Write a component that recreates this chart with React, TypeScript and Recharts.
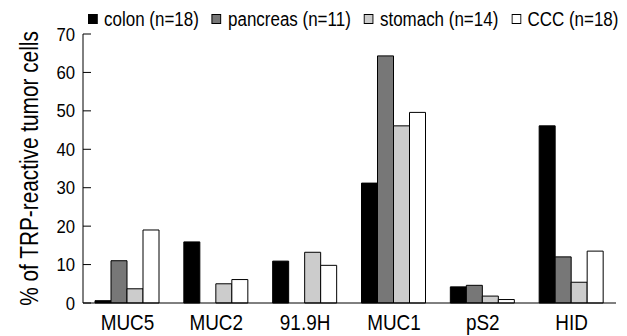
import { BarChart, Bar, XAxis, YAxis, Legend } from 'recharts'

const FONT = "'Liberation Sans', Arial, Helvetica, sans-serif"

const categories = ['MUC5', 'MUC2', '91.9H', 'MUC1', 'pS2', 'HID']
const colon = [0.6, 15.9, 10.9, 31.2, 4.2, 46.1]
const pancreas = [11.0, 0, 0, 64.3, 4.6, 12.0]
const stomach = [3.7, 5.0, 13.2, 46.1, 1.8, 5.4]
const ccc = [19.0, 6.1, 9.8, 49.6, 0.9, 13.5]
const yTicks = [0, 10, 20, 30, 40, 50, 60, 70]
const edgeTicks = [1, 2, 3, 4, 5, 6]

const series = [
  { key: 'colon', name: 'colon (n=18)', fill: '#000000' },
  { key: 'pancreas', name: 'pancreas (n=11)', fill: '#777777' },
  { key: 'stomach', name: 'stomach (n=14)', fill: '#cccccc' },
  { key: 'ccc', name: 'CCC (n=18)', fill: '#ffffff' },
]

const data = categories.map((name, i) => ({
  name,
  colon: colon[i],
  pancreas: pancreas[i],
  stomach: stomach[i],
  ccc: ccc[i],
}))

// the original uses a narrow face, so squeeze the text horizontally
const LEGEND_SQUEEZE = 0.87

const renderLegend = () => (
  <div
    style={{
      display: 'flex',
      gap: 15,
      fontSize: 19.5,
      fontFamily: FONT,
      color: '#000',
      lineHeight: '22px',
      whiteSpace: 'nowrap',
      transform: `scaleX(${LEGEND_SQUEEZE})`,
      transformOrigin: 'left top',
    }}
  >
    {series.map((s) => (
      <div key={s.key} style={{ display: 'flex', alignItems: 'center' }}>
        <span
          style={{
            display: 'inline-block',
            width: 11,
            height: 10,
            boxSizing: 'border-box',
            background: s.fill,
            border: '1px solid #000',
            marginRight: 7.5,
          }}
        />
        {s.name}
      </div>
    ))}
  </div>
)

const XTick = (props: any) => {
  const { x, y, payload } = props
  return (
    <g transform={`translate(${x},${y})`}>
      <text textAnchor="middle" y={27} transform="scale(0.86,1)" fontSize={22} fontFamily={FONT} fill="#000">
        {payload.value}
      </text>
    </g>
  )
}

const YTick = (props: any) => {
  const { x, y, payload } = props
  return (
    <g transform={`translate(${x},${y})`}>
      <text textAnchor="end" y={6.5} transform="scale(0.93,1)" fontSize={18} fontFamily={FONT} fill="#000">
        {payload.value}
      </text>
    </g>
  )
}

const renderYLabel = (props: any) => {
  const vb = props.viewBox || {}
  const cx = (vb.x || 0) + 38
  const cy = (vb.y || 0) + (vb.height || 0) / 2
  return (
    <text
      transform={`translate(${cx},${cy}) rotate(-90) scale(0.8,1)`}
      textAnchor="middle"
      fontSize={26}
      fontFamily={FONT}
      fill="#000"
    >
      % of TRP-reactive tumor cells
    </text>
  )
}

export default function App() {
  return (
    <div style={{ position: 'absolute', top: 0, left: 0 }}>
      <BarChart
        width={627}
        height={336}
        data={data}
        margin={{ top: 34, right: 11, left: 0, bottom: 0 }}
        barSize={16}
        barGap={0}
      >
        <XAxis
          xAxisId={0}
          type="number"
          domain={[0, 6]}
          ticks={edgeTicks}
          allowDataOverflow
          tick={false}
          tickSize={-7}
          tickLine={{ stroke: '#000' }}
          axisLine={false}
          height={0}
        />
        <XAxis
          xAxisId="cat"
          dataKey="name"
          tickLine={false}
          tickSize={0}
          tickMargin={0}
          height={33}
          axisLine={{ stroke: '#000' }}
          tick={<XTick />}
          interval={0}
        />
        <YAxis
          width={83}
          domain={[0, 70]}
          ticks={yTicks}
          interval={0}
          tickSize={-8}
          tickMargin={16}
          axisLine={{ stroke: '#000' }}
          tickLine={{ stroke: '#000' }}
          tick={<YTick />}
          label={renderYLabel}
        />
        <Legend
          content={renderLegend}
          wrapperStyle={{ position: 'absolute', top: 8, left: 88, width: 'auto', height: 0, overflow: 'visible' }}
        />
        {series.map((s) => (
          <Bar
            key={s.key}
            xAxisId="cat"
            dataKey={s.key}
            name={s.name}
            fill={s.fill}
            stroke="#000"
            strokeWidth={1}
            isAnimationActive={false}
          />
        ))}
      </BarChart>
    </div>
  )
}
